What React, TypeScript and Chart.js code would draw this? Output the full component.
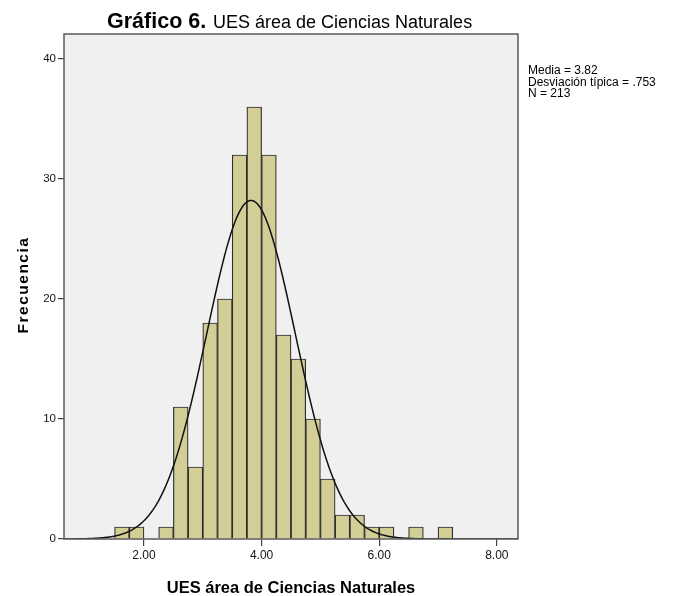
import React, { useEffect, useRef } from "react";
import { Chart, registerables } from "chart.js";

Chart.register(...registerables);

// Histogram bins (lower edge of each 0.25-wide bin) and their frequencies
const binLowerEdges = [1.5, 1.75, 2.0, 2.25, 2.5, 2.75, 3.0, 3.25, 3.5, 3.75, 4.0, 4.25, 4.5, 4.75, 5.0, 5.25, 5.5, 5.75, 6.0, 6.25, 6.5, 6.75, 7.0];
const frequencies = [1, 1, 0, 1, 11, 6, 18, 20, 32, 36, 32, 17, 15, 10, 5, 2, 2, 1, 1, 0, 1, 0, 1];
const binWidth = 0.25;

// Summary statistics shown in the chart (used for the fitted normal curve)
const mean = 3.82;
const stdDev = 0.753;
const nCases = 213;

const xTicks = [2, 4, 6, 8];
const yTicks = [0, 10, 20, 30, 40];
const xMin = 0.64;
const xMax = 8.36;
const yMax = 42.08;

const titleBold = "Gráfico 6.";
const titleRest = "UES área de Ciencias Naturales";
const xTitle = "UES área de Ciencias Naturales";
const yTitle = "Frecuencia";
const statsLines = ["Media = 3.82", "Desviación típica = .753", "N = 213"];

const W = 673;
const H = 596;

function normalCurve() {
  const pts: { x: number; y: number }[] = [];
  const steps = 300;
  for (let i = 0; i <= steps; i++) {
    const x = xMin + ((xMax - xMin) * i) / steps;
    const z = (x - mean) / stdDev;
    const y = (nCases * binWidth) / (stdDev * Math.sqrt(2 * Math.PI)) * Math.exp(-0.5 * z * z);
    pts.push({ x, y });
  }
  return pts;
}

const decorPlugin = {
  id: "decor",
  beforeDraw(chart: any) {
    const { ctx, chartArea } = chart;
    ctx.save();
    ctx.fillStyle = "#ffffff";
    ctx.fillRect(0, 0, chart.width, chart.height);
    ctx.fillStyle = "#F0F0F0";
    ctx.fillRect(chartArea.left, chartArea.top, chartArea.right - chartArea.left, chartArea.bottom - chartArea.top);
    ctx.restore();
  },
  afterDraw(chart: any) {
    const { ctx, chartArea } = chart;
    ctx.save();
    // plot frame
    ctx.strokeStyle = "#5a5a5a";
    ctx.lineWidth = 1.5;
    ctx.strokeRect(chartArea.left, chartArea.top, chartArea.right - chartArea.left, chartArea.bottom - chartArea.top);

    ctx.fillStyle = "#000";
    ctx.textBaseline = "alphabetic";
    // title
    ctx.textAlign = "left";
    ctx.font = 'bold 21.5px "Liberation Sans", Arial, sans-serif';
    ctx.fillText(titleBold, 107, 28);
    ctx.font = '18px "Liberation Sans", Arial, sans-serif';
    ctx.fillText(titleRest, 213, 28);

    // x axis title
    ctx.textAlign = "center";
    ctx.font = 'bold 16.5px "Liberation Sans", Arial, sans-serif';
    ctx.fillText(xTitle, (chartArea.left + chartArea.right) / 2, 592.5);

    // y axis title
    ctx.save();
    ctx.translate(28.3, 285);
    ctx.rotate(-Math.PI / 2);
    ctx.font = 'bold 15.5px "Liberation Sans", Arial, sans-serif';
    (ctx as any).letterSpacing = "1.5px";
    ctx.textAlign = "center";
    ctx.fillText(yTitle, 0, 0);
    ctx.restore();

    // stats text
    ctx.textAlign = "left";
    ctx.font = '12px "Liberation Sans", Arial, sans-serif';
    statsLines.forEach((line, i) => {
      ctx.fillText(line, 528, 74 + i * 11.5);
    });
    ctx.restore();
  },
};

export default function App() {
  const canvasRef = useRef<HTMLCanvasElement | null>(null);

  useEffect(() => {
    document.body.style.margin = "0";
    const canvas = canvasRef.current;
    if (!canvas) return;
    const barData = binLowerEdges.map((e, i) => ({ x: e + binWidth / 2, y: frequencies[i] }));
    const chart = new Chart(canvas, {
      type: "bar",
      data: {
        datasets: [
          {
            type: "line",
            data: normalCurve(),
            borderColor: "#111111",
            borderWidth: 1.5,
            pointRadius: 0,
            tension: 0,
            fill: false,
            order: 0,
          } as any,
          {
            type: "bar",
            data: barData,
            backgroundColor: "rgb(211,206,150)",
            borderColor: "rgb(45,45,45)",
            borderWidth: 1.2,
            barPercentage: 1,
            categoryPercentage: 1,
            order: 1,
          } as any,
        ],
      },
      options: {
        responsive: false,
        animation: false,
        devicePixelRatio: 1,
        layout: { padding: { left: 0, top: 34, right: W - 518, bottom: 0 } },
        plugins: {
          legend: { display: false },
          title: { display: false },
          tooltip: { enabled: false },
        },
        scales: {
          x: {
            type: "linear",
            min: xMin,
            max: xMax,
            offset: false,
            grid: {
              offset: false,
              drawOnChartArea: false,
              drawTicks: true,
              tickLength: 7,
              color: "#444",
              lineWidth: 1.2,
            },
            border: { display: false },
            ticks: {
              autoSkip: false,
              maxRotation: 0,
              color: "#111",
              padding: 2,
              font: { family: '"Liberation Sans", Arial, sans-serif', size: 12 },
              callback: (v: any) => Number(v).toFixed(2),
            },
            afterBuildTicks: (s: any) => {
              s.ticks = xTicks.map((v) => ({ value: v }));
            },
            afterFit: (s: any) => {
              s.height = H - 539;
            },
          },
          y: {
            type: "linear",
            min: 0,
            max: yMax,
            grid: {
              offset: false,
              drawOnChartArea: false,
              drawTicks: true,
              tickLength: 6,
              color: "#444",
              lineWidth: 1.2,
            },
            border: { display: false },
            ticks: {
              color: "#111",
              padding: 2,
              font: { family: '"Liberation Sans", Arial, sans-serif', size: 11.5 },
            },
            afterBuildTicks: (s: any) => {
              s.ticks = yTicks.map((v) => ({ value: v }));
            },
            afterFit: (s: any) => {
              s.width = 64;
            },
          },
        },
      },
      plugins: [decorPlugin],
    });
    return () => chart.destroy();
  }, []);

  return (
    <div style={{ position: "absolute", left: 0, top: 0, width: W, height: H }}>
      <canvas ref={canvasRef} width={W} height={H} style={{ width: W, height: H, display: "block" }} />
    </div>
  );
}
